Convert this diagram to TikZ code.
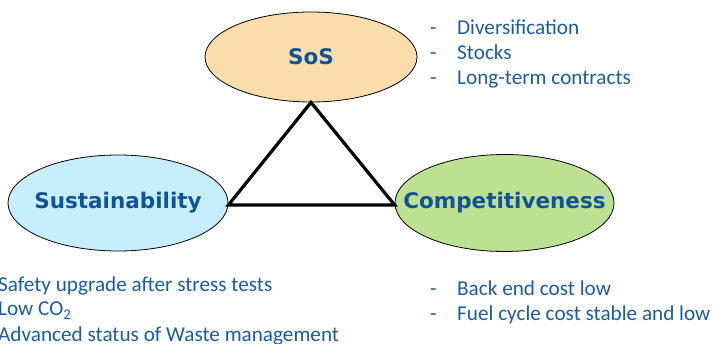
\documentclass[tikz,border=0pt]{standalone}
\usepackage{fontspec}
\setmainfont{Carlito}
\newfontfamily\titlefont{DejaVu Sans}
\usetikzlibrary{shapes.geometric}
\definecolor{titleblue}{RGB}{16,84,150}
\definecolor{bodyblue}{RGB}{28,92,160}
\definecolor{sosfill}{RGB}{251,221,172}
\definecolor{susfill}{RGB}{198,238,252}
\definecolor{compfill}{RGB}{189,225,147}
\tikzset{
  blob/.style={ellipse, draw=black, line width=0.8pt, inner sep=0pt},
  title/.style={font=\titlefont\bfseries\fontsize{21.5}{25}\selectfont, text=titleblue, inner sep=0pt},
  item/.style={font=\fontsize{21.2}{25}\selectfont, text=bodyblue, inner sep=0pt, anchor=base west},
  edge/.style={line width=3.2pt, line join=miter},
}
\begin{document}
\begin{tikzpicture}[x=1pt,y=-1pt]
\useasboundingbox (0,0) rectangle (714,344);
% ellipses
\node[blob, fill=sosfill, minimum width=212pt, minimum height=90pt] (sos) at (311,57) {};
\node[blob, fill=susfill, minimum width=220pt, minimum height=96pt] (sus) at (118,203) {};
\node[blob, fill=compfill, minimum width=219pt, minimum height=97pt] (comp) at (504.5,203) {};
\node[title] (sost) at (sos) {SoS};
\node[title] (sust) at (sus) {Sustainability};
\node[title] (compt) at (comp) {Competitiveness};
% triangle
\coordinate (apex) at (sos.south);
\coordinate (left) at ([yshift=-2pt]sus.east);
\coordinate (right) at ([yshift=-2pt]comp.west);
\draw[edge] (apex) -- (left) -- (right) -- cycle;
% SoS list
\node[item] (d1) at (430,35) {-};
\node[item] (t1) at (457,35) {Diversification};
\node[item] (d2) at (430,60) {-};
\node[item] (t2) at (457,60) {Stocks};
\node[item] (d3) at (430,85) {-};
\node[item] (t3) at (457,85) {Long-term contracts};
% Sustainability list
\node[item] (s1) at (-2,291) {Safety upgrade after stress tests};
\node[item] (s2) at (-2,316) {Low CO\textsubscript{2}};
\node[item] (s3) at (-2,341) {Advanced status of Waste management};
% Competitiveness list
\node[item] (d4) at (430,295) {-};
\node[item] (c1) at (457,295) {Back end cost low};
\node[item] (d5) at (430,320) {-};
\node[item] (c2) at (457,320) {Fuel cycle cost stable and low};
\end{tikzpicture}
\end{document}
